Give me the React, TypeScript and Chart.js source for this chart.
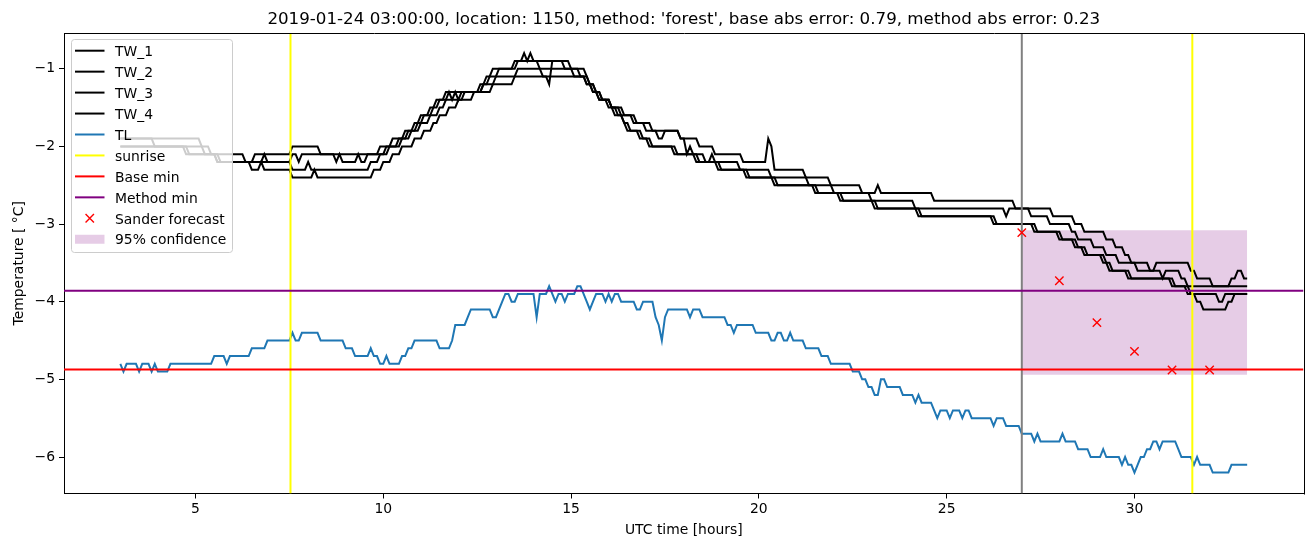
import React, { useEffect, useRef } from 'react';
import { Chart, registerables } from 'chart.js';

Chart.register(...registerables);

// ---------- text ----------
const TITLE = "2019-01-24 03:00:00, location: 1150, method: 'forest', base abs error: 0.79, method abs error: 0.23";
const X_LABEL = 'UTC time [hours]';
const Y_LABEL = 'Temperature [ °C]';
const X_TICKS = [5, 10, 15, 20, 25, 30];
const Y_TICKS = [-6, -5, -4, -3, -2, -1];
const X_RANGE = [1.5, 34.5];
const Y_RANGE = [-6.47, -0.54];

// ---------- sampling of the series (5-minute data from 03:00 to 33:00) ----------
const T_START = 3;
const T_END = 33;
const STEP_MIN = 5;

// Each series: change points [hour, value]; value holds until the next change point.
const TW_1 = [
  [3.0, -1.9], [5.17, -2.0], [5.42, -2.1], [6.33, -2.2], [6.58, -2.1], [7.58, -2.0], [8.33, -2.1],
  [9.92, -2.0], [10.25, -1.9], [10.58, -1.8], [10.83, -1.7], [11.0, -1.6], [11.25, -1.5], [11.42, -1.4],
  [11.67, -1.3], [12.58, -1.2], [12.75, -1.1], [12.92, -1.0], [13.5, -0.9], [13.75, -0.8], [13.83, -0.9],
  [13.92, -0.8], [14.0, -0.9], [14.17, -1.0], [14.25, -1.1], [14.42, -1.2], [14.5, -0.9], [14.83, -1.0],
  [15.08, -1.1], [15.5, -1.2], [15.58, -1.3], [15.75, -1.4], [16.08, -1.5], [16.33, -1.6], [16.67, -1.7],
  [17.0, -1.8], [17.92, -1.9], [18.42, -2.0], [18.83, -2.1], [19.58, -2.2], [20.25, -1.9], [20.33, -2.0],
  [20.42, -2.3], [21.25, -2.4], [21.92, -2.5], [22.75, -2.6], [23.17, -2.5], [23.25, -2.6], [24.67, -2.7],
  [26.83, -2.8], [27.83, -2.9], [28.42, -3.0], [28.67, -3.1], [29.25, -3.2], [29.5, -3.3], [29.75, -3.4],
  [29.92, -3.5], [30.42, -3.6], [30.58, -3.5], [31.5, -3.6], [31.67, -3.7], [32.08, -3.8], [32.58, -3.7],
  [32.75, -3.6], [32.92, -3.7],
];
const TW_2 = [
  [3.0, -1.9], [3.92, -2.0], [4.83, -2.1], [5.58, -2.2], [6.83, -2.1], [6.92, -2.2], [7.58, -2.1],
  [7.75, -2.2], [7.83, -2.1], [8.75, -2.2], [8.83, -2.1], [8.92, -2.2], [9.33, -2.1], [9.42, -2.2],
  [9.58, -2.1], [10.08, -2.0], [10.42, -1.9], [10.67, -1.8], [10.92, -1.7], [11.08, -1.6], [11.33, -1.5],
  [11.5, -1.4], [11.75, -1.3], [11.83, -1.4], [11.92, -1.3], [12.0, -1.4], [12.08, -1.3], [12.67, -1.2],
  [12.83, -1.1], [13.08, -1.0], [13.58, -0.9], [15.0, -1.0], [15.25, -1.1], [15.42, -1.2], [15.67, -1.3],
  [15.83, -1.4], [16.08, -1.5], [16.42, -1.6], [16.75, -1.7], [17.17, -1.8], [17.33, -1.9], [17.5, -1.8],
  [17.92, -1.9], [18.08, -2.1], [18.17, -2.0], [18.25, -2.1], [18.58, -2.2], [18.75, -2.1], [18.83, -2.2],
  [19.5, -2.3], [20.33, -2.4], [21.33, -2.5], [22.0, -2.6], [23.0, -2.7], [24.17, -2.8], [26.58, -2.9],
  [26.67, -2.8], [27.25, -2.9], [27.75, -3.0], [28.33, -3.1], [28.5, -3.2], [28.92, -3.3], [29.25, -3.4],
  [29.58, -3.5], [30.08, -3.6], [30.75, -3.7], [30.83, -3.6], [31.25, -3.7], [31.42, -3.8],
];
const TW_3 = [
  [3.0, -2.0], [4.75, -2.1], [5.58, -2.2], [7.58, -2.3], [8.0, -2.2], [8.08, -2.3], [9.67, -2.2],
  [9.92, -2.1], [10.17, -2.0], [10.5, -1.9], [10.75, -1.8], [11.0, -1.7], [11.25, -1.6], [11.5, -1.5],
  [11.67, -1.4], [12.17, -1.3], [12.67, -1.2], [13.0, -1.1], [13.58, -1.0], [15.42, -1.1], [15.5, -1.2],
  [15.67, -1.3], [15.83, -1.4], [16.08, -1.5], [16.25, -1.6], [16.42, -1.7], [16.58, -1.8], [16.92, -1.9],
  [17.17, -2.0], [17.83, -2.1], [18.42, -2.2], [19.0, -2.3], [19.75, -2.4], [20.5, -2.5], [21.58, -2.6],
  [22.25, -2.7], [23.17, -2.8], [24.33, -2.9], [26.33, -3.0], [27.42, -3.1], [28.08, -3.2], [28.5, -3.3],
  [28.75, -3.4], [29.25, -3.5], [29.42, -3.6], [29.92, -3.7], [31.08, -3.8], [31.5, -3.9], [32.25, -4.0],
  [32.42, -3.9],
];
const TW_4 = [
  [3.0, -2.0], [5.25, -2.1], [5.67, -2.2], [6.5, -2.3], [6.75, -2.2], [6.83, -2.3], [7.58, -2.4],
  [8.17, -2.3], [8.25, -2.4], [9.75, -2.3], [10.0, -2.2], [10.25, -2.1], [10.5, -2.0], [10.83, -1.9],
  [11.08, -1.8], [11.33, -1.7], [11.5, -1.6], [11.75, -1.5], [12.0, -1.4], [12.42, -1.3], [12.92, -1.2],
  [13.5, -1.1], [15.42, -1.2], [15.58, -1.3], [15.75, -1.4], [16.0, -1.5], [16.17, -1.6], [16.42, -1.7],
  [16.5, -1.8], [16.83, -1.9], [17.08, -2.0], [17.75, -2.1], [18.33, -2.2], [18.92, -2.3], [19.67, -2.4],
  [20.42, -2.5], [21.5, -2.6], [22.17, -2.7], [23.08, -2.8], [24.25, -2.9], [26.25, -3.0], [27.33, -3.1],
  [28.0, -3.2], [28.42, -3.3], [28.67, -3.4], [29.17, -3.5], [29.33, -3.6], [29.83, -3.7], [31.0, -3.8],
  [31.42, -3.9], [31.67, -4.0], [31.83, -4.1], [32.5, -4.0], [32.67, -3.9],
];
const TL = [
  [3.0, -4.8], [3.08, -4.9], [3.17, -4.8], [3.5, -4.9], [3.58, -4.8], [3.83, -4.9], [3.92, -4.8],
  [4.0, -4.9], [4.33, -4.8], [5.5, -4.7], [5.83, -4.8], [5.92, -4.7], [6.5, -4.6], [6.92, -4.5],
  [7.58, -4.4], [7.67, -4.5], [7.83, -4.4], [8.33, -4.5], [9.0, -4.6], [9.25, -4.7], [9.67, -4.6],
  [9.75, -4.7], [9.92, -4.8], [10.08, -4.7], [10.17, -4.8], [10.5, -4.7], [10.67, -4.6], [10.83, -4.5],
  [11.5, -4.6], [11.83, -4.5], [11.92, -4.3], [12.25, -4.2], [12.33, -4.1], [12.92, -4.2], [13.08, -4.1],
  [13.17, -4.0], [13.25, -3.9], [13.42, -4.0], [13.58, -3.9], [14.08, -4.2], [14.17, -3.9], [14.42, -3.8],
  [14.5, -3.9], [14.58, -4.0], [14.67, -3.9], [14.83, -4.0], [14.92, -3.9], [15.17, -3.8], [15.33, -3.9],
  [15.42, -4.0], [15.5, -4.1], [15.58, -4.0], [15.67, -3.9], [15.92, -4.0], [16.0, -3.9], [16.08, -4.0],
  [16.17, -3.9], [16.33, -4.0], [16.75, -4.1], [16.92, -4.0], [17.25, -4.2], [17.33, -4.3], [17.42, -4.5],
  [17.5, -4.2], [17.58, -4.1], [18.17, -4.2], [18.25, -4.1], [18.5, -4.2], [19.17, -4.3], [19.33, -4.4],
  [19.42, -4.3], [19.92, -4.4], [20.33, -4.5], [20.5, -4.4], [20.67, -4.5], [20.83, -4.4], [20.92, -4.5],
  [21.25, -4.6], [21.67, -4.7], [21.92, -4.8], [22.5, -4.9], [22.75, -5.0], [22.92, -5.1], [23.08, -5.2],
  [23.25, -5.0], [23.42, -5.1], [23.83, -5.2], [24.17, -5.3], [24.25, -5.2], [24.33, -5.3], [24.67, -5.4],
  [24.75, -5.5], [24.83, -5.4], [25.08, -5.5], [25.17, -5.4], [25.42, -5.5], [25.5, -5.4], [25.67, -5.5],
  [26.25, -5.6], [26.33, -5.5], [26.58, -5.6], [27.0, -5.7], [27.33, -5.8], [27.42, -5.7], [27.5, -5.8],
  [28.08, -5.7], [28.17, -5.8], [28.5, -5.9], [28.83, -6.0], [29.17, -5.9], [29.25, -6.0], [29.67, -6.1],
  [29.75, -6.0], [29.83, -6.1], [30.0, -6.2], [30.08, -6.1], [30.17, -6.0], [30.33, -5.9], [30.5, -5.8],
  [30.67, -5.9], [30.75, -5.8], [31.17, -5.9], [31.25, -6.0], [31.58, -6.1], [31.67, -6.0], [31.75, -6.1],
  [32.08, -6.2], [32.58, -6.1],
];

// ---------- reference lines & forecast ----------
const SUNRISE = [7.53, 31.54];
const FORECAST_TIME = 27;
const BASE_MIN = -4.874;
const METHOD_MIN = -3.86;
const SANDER_X = [27, 28, 29, 30, 31, 32];
const SANDER_Y = [-3.11, -3.73, -4.27, -4.64, -4.88, -4.88];
const CONF_X = [27, 33];
const CONF_HI = -3.08;
const CONF_LO = -4.94;

const LEGEND_LABELS = ['TW_1', 'TW_2', 'TW_3', 'TW_4', 'TL', 'sunrise', 'Base min', 'Method min', 'Sander forecast', '95% confidence'];

const FONT = "'DejaVu Sans', 'Liberation Sans', sans-serif";
const C_TL = '#1f77b4';
const C_CONF = 'rgba(128,0,128,0.2)';

function expand(steps: number[][]) {
  const n = Math.round(((T_END - T_START) * 60) / STEP_MIN) + 1;
  const perHour = 60 / STEP_MIN;
  const out: { x: number; y: number }[] = [];
  let k = 0;
  for (let i = 0; i < n; i++) {
    while (k + 1 < steps.length && Math.round((steps[k + 1][0] - T_START) * perHour) <= i) k++;
    out.push({ x: T_START + i / perHour, y: steps[k][1] });
  }
  return out;
}

function fmt(v: number) {
  return v < 0 ? '\u2212' + String(-v) : String(v);
}

const overlayPlugin = {
  id: 'overlay',
  afterDraw(chart: any) {
    const ctx = chart.ctx as CanvasRenderingContext2D;
    const a = chart.chartArea;
    ctx.save();
    // spines (top / right)
    ctx.strokeStyle = '#000';
    ctx.lineWidth = 1;
    ctx.beginPath();
    ctx.moveTo(Math.round(a.left) + 0.5, Math.round(a.top) + 0.5);
    ctx.lineTo(Math.round(a.right) + 0.5, Math.round(a.top) + 0.5);
    ctx.lineTo(Math.round(a.right) + 0.5, Math.round(a.bottom) + 0.5);
    ctx.stroke();

    // title & axis labels
    ctx.fillStyle = '#000';
    ctx.textAlign = 'center';
    ctx.textBaseline = 'alphabetic';
    ctx.font = `16.7px ${FONT}`;
    ctx.fillText(TITLE, (a.left + a.right) / 2, 23.5);
    ctx.font = `13.9px ${FONT}`;
    ctx.fillText(X_LABEL, (a.left + a.right) / 2, 534);
    ctx.save();
    ctx.translate(23, (a.top + a.bottom) / 2);
    ctx.rotate(-Math.PI / 2);
    ctx.fillText(Y_LABEL, 0, 0);
    ctx.restore();

    // legend
    const lx = 71.5, ly = 39.5, lw = 161, lh = 213, r = 3;
    ctx.beginPath();
    ctx.moveTo(lx + r, ly);
    ctx.lineTo(lx + lw - r, ly);
    ctx.quadraticCurveTo(lx + lw, ly, lx + lw, ly + r);
    ctx.lineTo(lx + lw, ly + lh - r);
    ctx.quadraticCurveTo(lx + lw, ly + lh, lx + lw - r, ly + lh);
    ctx.lineTo(lx + r, ly + lh);
    ctx.quadraticCurveTo(lx, ly + lh, lx, ly + lh - r);
    ctx.lineTo(lx, ly + r);
    ctx.quadraticCurveTo(lx, ly, lx + r, ly);
    ctx.closePath();
    ctx.fillStyle = 'rgba(255,255,255,0.8)';
    ctx.fill();
    ctx.strokeStyle = '#cccccc';
    ctx.lineWidth = 1;
    ctx.stroke();

    const styles = [
      { kind: 'line', color: '#000' }, { kind: 'line', color: '#000' }, { kind: 'line', color: '#000' },
      { kind: 'line', color: '#000' }, { kind: 'line', color: C_TL }, { kind: 'line', color: 'yellow' },
      { kind: 'line', color: 'red' }, { kind: 'line', color: 'purple' }, { kind: 'marker', color: 'red' },
      { kind: 'patch', color: C_CONF },
    ];
    const hx0 = 75, hx1 = 104.5;
    ctx.textAlign = 'left';
    ctx.font = `13.9px ${FONT}`;
    LEGEND_LABELS.forEach((label, i) => {
      const cy = 50.7 + i * 20.95;
      const s = styles[i];
      if (s.kind === 'line') {
        ctx.strokeStyle = s.color;
        ctx.lineWidth = 2;
        ctx.beginPath();
        ctx.moveTo(hx0, cy);
        ctx.lineTo(hx1, cy);
        ctx.stroke();
      } else if (s.kind === 'marker') {
        const cx = (hx0 + hx1) / 2, h = 4.2;
        ctx.strokeStyle = s.color;
        ctx.lineWidth = 1.4;
        ctx.beginPath();
        ctx.moveTo(cx - h, cy - h); ctx.lineTo(cx + h, cy + h);
        ctx.moveTo(cx - h, cy + h); ctx.lineTo(cx + h, cy - h);
        ctx.stroke();
      } else {
        ctx.fillStyle = s.color;
        ctx.fillRect(hx0, cy - 4.5, hx1 - hx0, 9);
      }
      ctx.fillStyle = '#000';
      ctx.fillText(label, 115, cy + 5.2);
    });
    ctx.restore();
  },
};

export default function App() {
  const ref = useRef<HTMLCanvasElement | null>(null);
  useEffect(() => {
    if (!ref.current) return;
    const lineDs = (label: string, data: any[], color: string, order: number, width = 2) => ({
      type: 'line' as const,
      label,
      data,
      borderColor: color,
      backgroundColor: color,
      borderWidth: width,
      pointRadius: 0,
      tension: 0,
      fill: false,
      spanGaps: false,
      order,
    });
    const vData = (xs: number[]) => {
      const d: any[] = [];
      xs.forEach((x, i) => {
        if (i > 0) d.push({ x, y: null });
        d.push({ x, y: Y_RANGE[0] }, { x, y: Y_RANGE[1] });
      });
      return d;
    };
    const hData = (y: number) => [{ x: X_RANGE[0], y }, { x: X_RANGE[1], y }];

    const datasets: any[] = [
      lineDs('TW_1', expand(TW_1), '#000', 9),
      lineDs('TW_2', expand(TW_2), '#000', 9),
      lineDs('TW_3', expand(TW_3), '#000', 9),
      lineDs('TW_4', expand(TW_4), '#000', 9),
      lineDs('TL', expand(TL), C_TL, 8),
      lineDs('sunrise', vData(SUNRISE), 'yellow', 7),
      lineDs('forecast', vData([FORECAST_TIME]), 'grey', 7),
      lineDs('Base min', hData(BASE_MIN), 'red', 6),
      lineDs('Method min', hData(METHOD_MIN), 'purple', 6),
      {
        type: 'line',
        label: 'Sander forecast',
        data: SANDER_X.map((x, i) => ({ x, y: SANDER_Y[i] })),
        showLine: false,
        pointStyle: 'crossRot',
        pointRadius: 5.9,
        pointBorderWidth: 1.4,
        borderColor: 'red',
        backgroundColor: 'red',
        order: 5,
      },
      {
        type: 'line',
        label: '95% confidence',
        data: CONF_X.map((x) => ({ x, y: CONF_HI })),
        borderWidth: 0,
        borderColor: 'rgba(0,0,0,0)',
        backgroundColor: C_CONF,
        pointRadius: 0,
        fill: { value: CONF_LO },
        order: 10,
      },
    ];

    const tickFont = { family: FONT, size: 13.9 };
    const chart = new Chart(ref.current, {
      type: 'line',
      data: { datasets },
      options: {
        responsive: false,
        animation: false,
        devicePixelRatio: 1,
        events: [],
        layout: { padding: { top: 33, right: 9.5, bottom: 0, left: 0 } },
        plugins: {
          legend: { display: false },
          tooltip: { enabled: false },
          title: { display: false },
        },
        scales: {
          x: {
            type: 'linear',
            min: X_RANGE[0],
            max: X_RANGE[1],
            afterBuildTicks: (s: any) => { s.ticks = X_TICKS.map((v) => ({ value: v })); },
            afterFit: (s: any) => { s.height = 53.5; },
            grid: { display: true, drawOnChartArea: false, drawTicks: true, tickLength: 5, color: '#000', lineWidth: 1 },
            border: { display: true, color: '#000', width: 1 },
            ticks: { color: '#000', font: tickFont, padding: 3, maxRotation: 0, autoSkip: false, callback: (v: any) => fmt(Number(v)) },
          },
          y: {
            type: 'linear',
            min: Y_RANGE[0],
            max: Y_RANGE[1],
            afterBuildTicks: (s: any) => { s.ticks = Y_TICKS.map((v) => ({ value: v })); },
            afterFit: (s: any) => { s.width = 64; },
            grid: { display: true, drawOnChartArea: false, drawTicks: true, tickLength: 5, color: '#000', lineWidth: 1 },
            border: { display: true, color: '#000', width: 1 },
            ticks: { color: '#000', font: tickFont, padding: 4, autoSkip: false, callback: (v: any) => fmt(Number(v)) },
          },
        },
      } as any,
      plugins: [overlayPlugin],
    });
    return () => chart.destroy();
  }, []);

  return (
    <div style={{ position: 'fixed', left: 0, top: 0, width: 1313, height: 547, background: '#fff' }}>
      <canvas ref={ref} width={1313} height={547} style={{ display: 'block' }} />
    </div>
  );
}
